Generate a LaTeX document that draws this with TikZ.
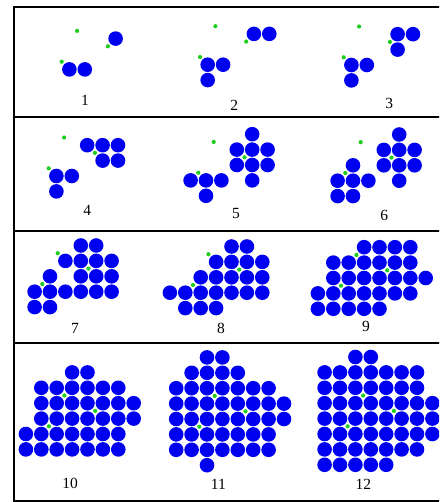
\documentclass[tikz,border=0pt]{standalone}
\usepackage{fontspec}
\setmainfont{Liberation Serif}
\usepackage{tikz}
\usetikzlibrary{positioning}
\definecolor{diskBlue}{RGB}{0,0,240}
\definecolor{seedGreen}{RGB}{30,205,30}

\begin{document}
\begin{tikzpicture}[
  x=1pt, y=-1pt,
  disk/.style={
    circle, inner sep=0pt, minimum size=14.6pt,
    fill=diskBlue, draw=none
  },
  growpt/.style={
    circle, inner sep=0pt, minimum size=4.2pt,
    fill=seedGreen, draw=none
  },
  stage/.style={
    inner sep=1pt, text=black,
    font=\fontsize{15.5}{17}\selectfont
  },
  frame/.style={draw=black, line width=2pt},
]
\clip (0,0) rectangle (439,502);

% Frame and row separators
\draw[frame] (14.3,7) rectangle (460,500.7);
\foreach \y in {117.3,230.5,343.3}
  \draw[frame] (14.3,\y) -- (460,\y);

% Panels: number / origin / rows (row/first col/last col) / label position
\foreach \p/\ox/\oy/\rows/\lx/\ly in {
  1/61.7/61.7/{0/0/1, -2/3/3}/85/100.5,
  2/200/57/{0/0/1, 1/0/0, -2/3/4}/234.3/105,
  3/343.7/57.3/{0/0/1, 1/0/0, -2/3/4, -1/3/3}/389.3/103.3,
  4/48.7/168.3/{0/0/1, 1/0/0, -2/2/4, -1/3/4}/87.3/210,
  5/198.3/172.7/{0/-1/1, 1/0/0, -3/3/3, -2/2/4, -1/2/4, 0/3/3}/236/214,
  6/345.3/173/{-1/0/0, 0/-1/1, 1/-1/0, -3/3/3, -2/2/4, -1/2/4, 0/3/3}/384.3/215,
  7/42.3/284/{-3/2/3, -2/1/4, -1/0/0, -1/2/4, 0/-1/4, 1/-1/0}/75/328.3,
  8/193/285/{-3/2/3, -2/1/4, -1/0/4, 0/-2/4, 1/-1/1}/221/328.3,
  9/341/285.7/{-3/1/4, -2/-1/4, -1/-1/5, 0/-2/4, 1/-2/2}/366/326.3,
  10/49/426.3/{-4/1/2, -3/-1/4, -2/-1/5, -1/-1/5, 0/-2/4, 1/-2/4}/70/483.3,
  11/199.3/426.7/{-5/0/1, -4/-1/2, -3/-2/4, -2/-2/5, -1/-2/5, 0/-2/4, 1/-2/4, 2/0/0}/218.3/484,
  12/347.7/426.3/{-5/0/1, -4/-2/4, -3/-2/4, -2/-2/5, -1/-2/5, 0/-2/5, 1/-2/4, 2/-2/2}/363.3/484%
}{
  \begin{scope}[shift={(\ox,\oy)}, x=15.4pt, y=-15.4pt]
    \foreach \j/\a/\b in \rows
      \foreach \i in {\a,...,\b}
        \node[disk] (d\p-r\j-c\i) at (\i+0.5,\j+0.5) {};
    % growth points
    \foreach \sx/\sy [count=\k] in {0/0, 1/-2, 3/-1}
      \node[growpt] (g\p-\k) at (\sx,\sy) {};
  \end{scope}
  \node[stage] (n\p) at (\lx,\ly) {\p};
}

\end{tikzpicture}
\end{document}
